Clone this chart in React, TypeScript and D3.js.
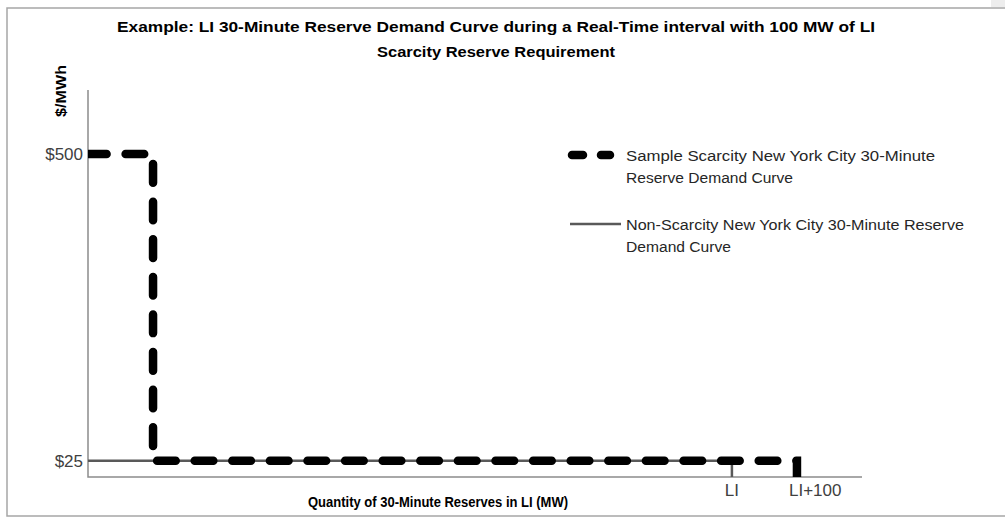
import { useEffect, useRef } from "react";
import * as d3 from "d3";

// chart values
const TITLE_LINES = [
  "Example:  LI 30-Minute Reserve Demand Curve  during a Real-Time  interval with  100 MW of LI",
  "Scarcity  Reserve Requirement",
];
const Y_TITLE = "$/MWh";
const X_TITLE = "Quantity  of 30-Minute  Reserves in LI  (MW)";

// quantities in MW (LI = long island requirement, placed at 990 on a nominal axis)
const scarcityX = [0, 100, 100, 1090, 1090];
const scarcityY = [500, 500, 25, 25, 0];
const nonScarcityX = [0, 990, 990];
const nonScarcityY = [25, 25, 0];

const yTicks = [500, 25];
const yTickLabels = ["$500", "$25"];
const xTicks = [990, 1090];
const xTickLabels = ["LI", "LI+100"];

const legendLabels = [
  ["Sample Scarcity New York City 30-Minute", "Reserve Demand Curve"],
  ["Non-Scarcity New York City 30-Minute Reserve", "Demand Curve"],
];

const WIDTH = 1005;
const HEIGHT = 517;

export default function App() {
  const ref = useRef<SVGSVGElement>(null);

  useEffect(() => {
    const svg = d3.select(ref.current);
    svg.selectAll("*").remove();

    const font = "'Liberation Sans', Arial, sans-serif";
    const plot = { left: 88, right: 862, top: 90, bottom: 477 };

    const x = d3.scaleLinear().domain([0, 1190]).range([plot.left, plot.right]);
    const y = d3.scaleLinear().domain([0, 599]).range([plot.bottom, plot.top]);

    // outer border
    svg
      .append("rect")
      .attr("x", 7)
      .attr("y", 8)
      .attr("width", WIDTH + 10)
      .attr("height", 508)
      .attr("fill", "#fff")
      .attr("stroke", "#a6a6a6")
      .attr("stroke-width", 1.5);
    svg
      .append("rect")
      .attr("x", 991)
      .attr("y", 0)
      .attr("width", 14)
      .attr("height", 7)
      .attr("fill", "#ededed");

    // title
    svg
      .append("g")
      .selectAll("text")
      .data(TITLE_LINES)
      .join("text")
      .attr("x", 496)
      .attr("y", (d, i) => 32 + i * 25)
      .attr("text-anchor", "middle")
      .attr("font-family", font)
      .attr("font-weight", "bold")
      .attr("font-size", 14)
      .attr("fill", "#000")
      .attr("textLength", (d, i) => (i === 0 ? 758 : 238))
      .attr("lengthAdjust", "spacingAndGlyphs")
      .text((d) => d);

    // axes lines
    svg
      .append("path")
      .attr("d", `M${plot.left},${plot.top}V${plot.bottom}H${plot.right}`)
      .attr("fill", "none")
      .attr("stroke", "#8c8c8c")
      .attr("stroke-width", 1.5);

    // y ticks
    svg
      .append("g")
      .selectAll("text")
      .data(yTicks)
      .join("text")
      .attr("x", plot.left - 5)
      .attr("y", (d) => y(d))
      .attr("dy", "0.35em")
      .attr("text-anchor", "end")
      .attr("font-family", font)
      .attr("font-size", 17)
      .attr("fill", "#404040")
      .text((d, i) => yTickLabels[i]);

    // x ticks
    svg
      .append("g")
      .selectAll("text")
      .data(xTicks)
      .join("text")
      .attr("x", (d, i) => (i === 0 ? x(d) : x(d) - 8))
      .attr("y", plot.bottom + 19)
      .attr("text-anchor", (d, i) => (i === 0 ? "middle" : "start"))
      .attr("font-family", font)
      .attr("font-size", 17)
      .attr("fill", "#404040")
      .text((d, i) => xTickLabels[i]);

    // axis titles
    svg
      .append("text")
      .attr("transform", `translate(66,91) rotate(-90)`)
      .attr("text-anchor", "middle")
      .attr("font-family", font)
      .attr("font-weight", "bold")
      .attr("font-size", 14)
      .attr("textLength", 52)
      .attr("lengthAdjust", "spacingAndGlyphs")
      .text(Y_TITLE);
    svg
      .append("text")
      .attr("x", 438)
      .attr("y", 507)
      .attr("text-anchor", "middle")
      .attr("font-family", font)
      .attr("font-weight", "bold")
      .attr("font-size", 14)
      .attr("textLength", 260)
      .attr("lengthAdjust", "spacingAndGlyphs")
      .text(X_TITLE);

    // clip to plot area
    svg
      .append("clipPath")
      .attr("id", "plot-clip")
      .append("rect")
      .attr("x", plot.left)
      .attr("y", 0)
      .attr("width", WIDTH)
      .attr("height", plot.bottom);

    const toPts = (xs: number[], ys: number[]) =>
      xs.map((v, i) => [x(v), y(ys[i])] as [number, number]);

    const lineGen = d3.line();

    const g = svg.append("g").attr("clip-path", "url(#plot-clip)");
    g.append("path")
      .attr("d", lineGen(toPts(nonScarcityX, nonScarcityY)))
      .attr("fill", "none")
      .attr("stroke", "#595959")
      .attr("stroke-width", 2.5);
    g.append("path")
      .attr("d", lineGen(toPts(scarcityX, scarcityY)))
      .attr("fill", "none")
      .attr("stroke", "#000")
      .attr("stroke-width", 8.5)
      .attr("stroke-linecap", "round")
      .attr("stroke-dasharray", "18.6 19");

    // legend
    const legend = svg.append("g");
    legend
      .append("path")
      .attr("d", "M572,155H610")
      .attr("stroke", "#000")
      .attr("stroke-width", 8.5)
      .attr("stroke-linecap", "round")
      .attr("stroke-dasharray", "11 18");
    legend
      .append("path")
      .attr("d", "M570,224H621")
      .attr("stroke", "#595959")
      .attr("stroke-width", 2.5);

    const legendWidths = [
      [309, 167],
      [338, 105],
    ];
    legendLabels.forEach((lines, k) => {
      lines.forEach((t, j) => {
        legend
          .append("text")
          .attr("x", 626)
          .attr("y", 161 + k * 69 + j * 22)
          .attr("font-family", font)
          .attr("font-size", 14)
          .attr("fill", "#262626")
          .attr("textLength", legendWidths[k][j])
          .attr("lengthAdjust", "spacingAndGlyphs")
          .text(t);
      });
    });
  }, []);

  return (
    <svg
      ref={ref}
      width={WIDTH}
      height={HEIGHT}
      style={{ position: "absolute", left: 0, top: 0, background: "#fff" }}
    />
  );
}
